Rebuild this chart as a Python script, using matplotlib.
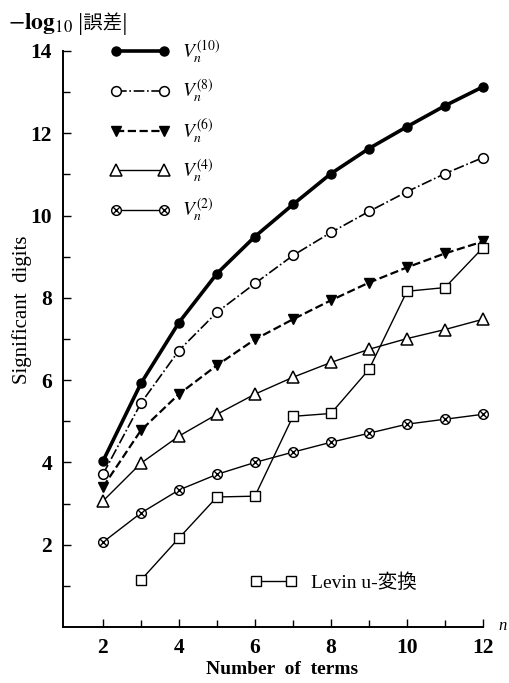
import matplotlib
matplotlib.use('Agg')
import matplotlib.pyplot as plt
import numpy as np
from matplotlib.path import Path

plt.rcParams['font.family'] = ['Liberation Serif', 'Noto Sans CJK JP']
plt.rcParams['mathtext.fontset'] = 'stix'

# データ
n_terms = [2, 3, 4, 5, 6, 7, 8, 9, 10, 11, 12]
v10 = [4.03, 5.92, 7.40, 8.59, 9.49, 10.27, 11.02, 11.63, 12.16, 12.67, 13.13]
v8 = [3.71, 5.44, 6.72, 7.65, 8.35, 9.03, 9.59, 10.10, 10.58, 11.02, 11.41]
v6 = [3.40, 4.78, 5.66, 6.36, 6.99, 7.48, 7.94, 8.37, 8.74, 9.08, 9.37]
v4 = [3.06, 3.98, 4.64, 5.17, 5.66, 6.07, 6.43, 6.75, 7.01, 7.23, 7.48]
v2 = [2.06, 2.77, 3.33, 3.71, 4.00, 4.25, 4.49, 4.71, 4.93, 5.05, 5.17]
levin_x = [3, 4, 5, 6, 7, 8, 9, 10, 11, 12]
levin = [1.14, 2.16, 3.16, 3.18, 5.12, 5.19, 6.26, 8.16, 8.25, 9.22]

labels = [r'$V_n^{(10)}$', r'$V_n^{(8)}$', r'$V_n^{(6)}$', r'$V_n^{(4)}$', r'$V_n^{(2)}$']
levin_label = 'Levin u-変換'

# 丸にバツのマーカー
c = 0.70
otimes = Path.make_compound_path(
    Path.unit_circle(),
    Path([(-c, -c), (c, c)], [Path.MOVETO, Path.LINETO]),
    Path([(-c, c), (c, -c)], [Path.MOVETO, Path.LINETO]),
)

fig = plt.figure(figsize=(5.1, 6.83), dpi=100)
W, H = 510, 683
ax = fig.add_axes([63 / W, 1 - 627 / H, (483 - 63) / W, (627 - 51) / H])

kw = dict(color='black', clip_on=False)
h10, = ax.plot(n_terms, v10, '-', lw=2.6, marker='o', ms=6.5, mfc='black', label=labels[0], **kw)
h8, = ax.plot(n_terms, v8, '-.', lw=1.2, marker='o', ms=7, mfc='white', mew=1.1, label=labels[1], **kw)
h6, = ax.plot(n_terms, v6, '--', lw=1.6, marker='v', ms=7.5, mfc='black', label=labels[2], **kw)
h4, = ax.plot(n_terms, v4, '-', lw=1.0, marker='^', ms=9, mfc='white', mew=1.1, label=labels[3], **kw)
h2, = ax.plot(n_terms, v2, '-', lw=1.0, marker=otimes, ms=7, mfc='white', mew=1.0, label=labels[4], **kw)
hl, = ax.plot(levin_x, levin, '-', lw=1.0, marker='s', ms=7, mfc='white', mew=1.0, label=levin_label, **kw)

ax.set_xlim(0.95, 12)
ax.set_ylim(0, 14)
ax.spines['top'].set_visible(False)
ax.spines['right'].set_visible(False)
ax.spines['left'].set_linewidth(1.4)
ax.spines['bottom'].set_linewidth(1.4)

ax.set_xticks(range(2, 13, 2))
ax.set_xticks(range(3, 13, 2), minor=True)
ax.set_yticks(range(2, 15, 2))
ax.set_yticks(range(1, 14, 2), minor=True)
ax.tick_params(which='both', direction='in', width=1.0, labelsize=15.5, pad=8)
ax.tick_params(which='major', length=6)
ax.tick_params(which='minor', length=5)
for t in ax.get_xticklabels() + ax.get_yticklabels():
    t.set_fontweight('bold')

leg1 = ax.legend(handles=[h10, h8, h6, h4, h2], loc='upper left',
                 bbox_to_anchor=(0.07, 1.052), frameon=False, numpoints=2,
                 handlelength=3.1, handletextpad=0.6, labelspacing=0.62,
                 fontsize=14)
ax.add_artist(leg1)
ax.legend(handles=[hl], loc='lower left', bbox_to_anchor=(0.405, 0.03),
          frameon=False, numpoints=2, handlelength=2.4, handletextpad=0.7,
          fontsize=14)

fig.text(8 / W, 1 - 24 / H, r'$-\mathbf{log}_{10}$', fontsize=17,
         va='center', ha='left')
fig.text(78 / W, 1 - 24 / H, '|誤差|', fontsize=14, family='Noto Sans CJK JP',
         va='center', ha='left')
fig.text(22 / W, 1 - 310 / H, 'Significant  digits', rotation=90,
         fontsize=15, va='center', ha='center')
fig.text(282 / W, 1 - 670 / H, 'Number  of  terms', fontsize=14,
         fontweight='bold', va='center', ha='center')
fig.text(498 / W, 1 - 626 / H, 'n', fontsize=12, style='italic',
         va='center', ha='left')

fig.savefig('out.png', dpi=100)
